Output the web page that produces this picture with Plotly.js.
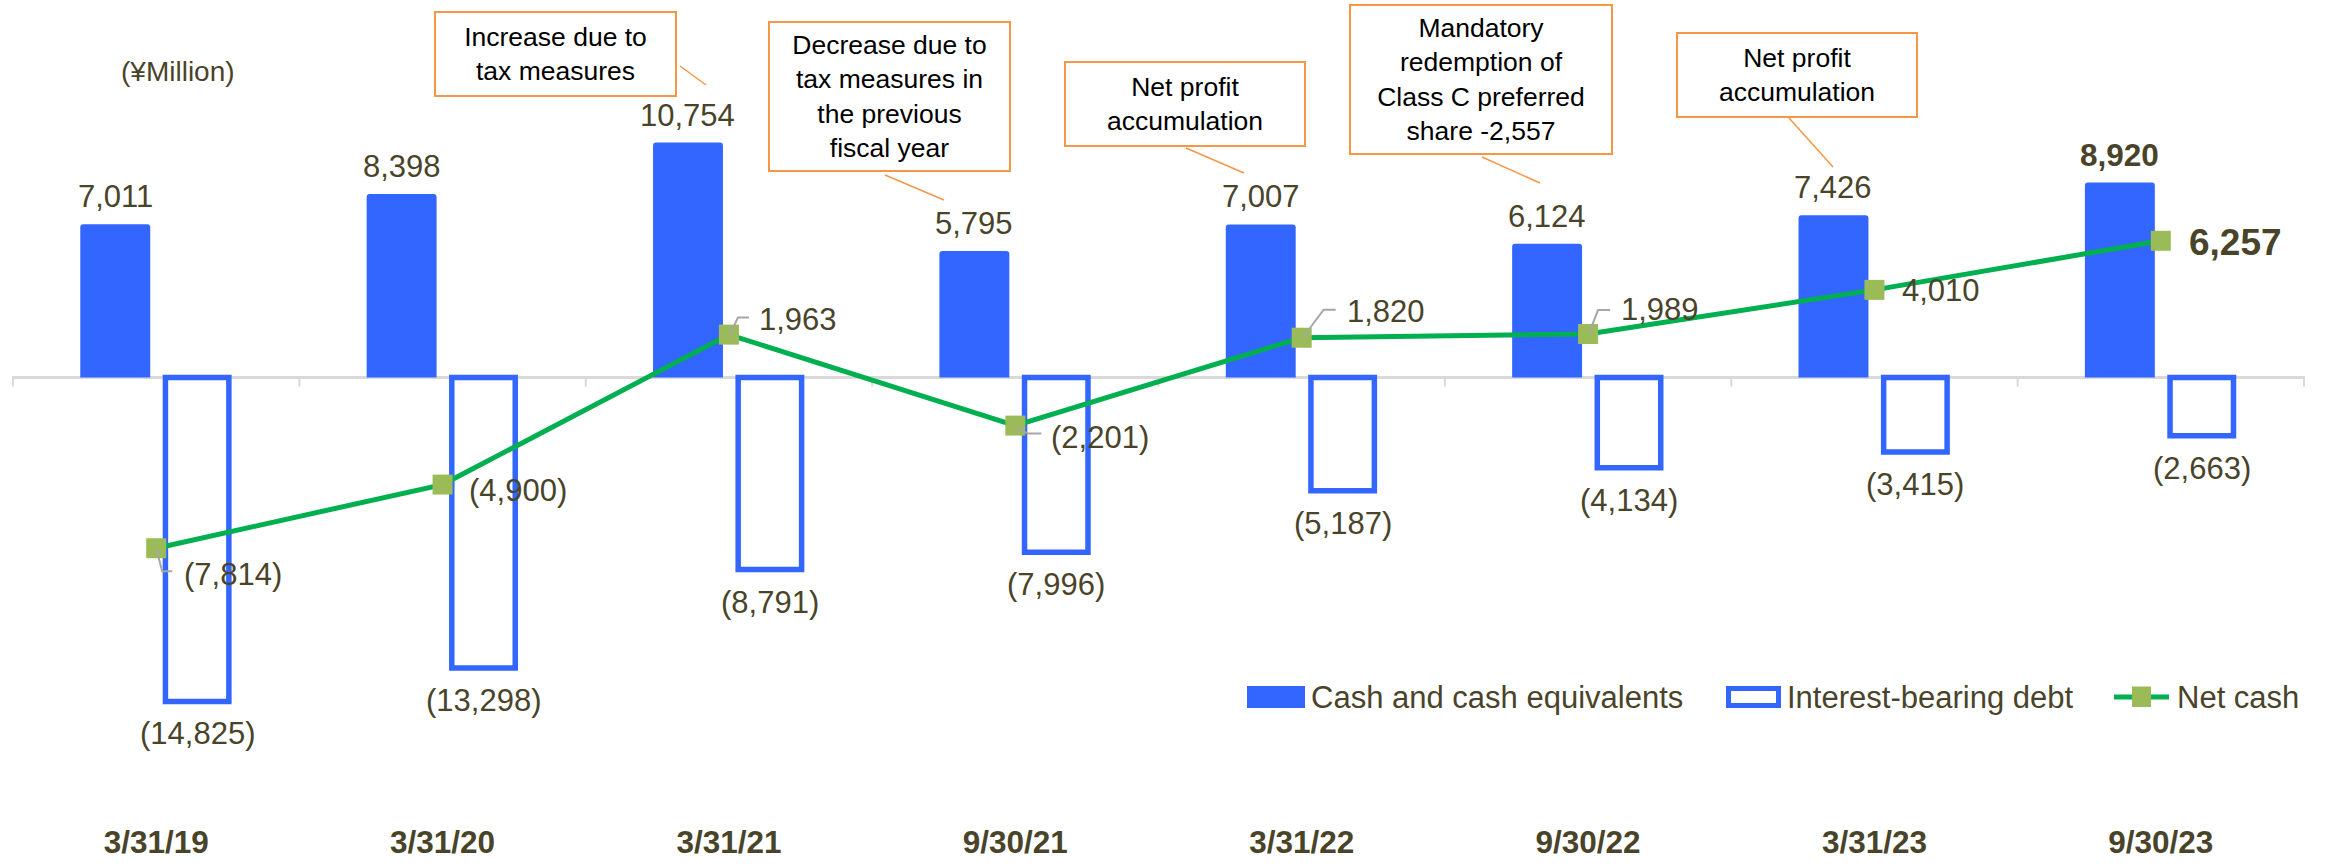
<!DOCTYPE html>
<html>
<head>
<meta charset="utf-8">
<script src="https://cdn.plot.ly/plotly-3.0.1.min.js"></script>
<style>
  html, body { margin: 0; padding: 0; background: #ffffff; }
  #chart { width: 2328px; height: 865px; }
</style>
</head>
<body>
<div id="chart"></div>
<script>
// ---------------- data ----------------
const categories = ['3/31/19', '3/31/20', '3/31/21', '9/30/21', '3/31/22', '9/30/22', '3/31/23', '9/30/23'];
const cashValues = [7011, 8398, 10754, 5795, 7007, 6124, 7426, 8920];
const debtValues = [-14825, -13298, -8791, -7996, -5187, -4134, -3415, -2663];
const netCashValues = [-7814, -4900, 1963, -2201, 1820, 1989, 4010, 6257];
const seriesNames = ['Cash and cash equivalents', 'Interest-bearing debt', 'Net cash'];
const unitLabel = '(¥Million)';
const calloutTexts = [
  'Increase due to<br>tax measures',
  'Decrease due to<br>tax measures in<br>the previous<br>fiscal year',
  'Net profit<br>accumulation',
  'Mandatory<br>redemption of<br>Class C preferred<br>share -2,557',
  'Net profit<br>accumulation'
];

// ---------------- layout / style settings ----------------
const W = 2328, H = 865;
const M = { l: 12, r: 23, t: 0, b: 45 };
const plotW = W - M.l - M.r;
const plotH = H - M.t - M.b;
const zeroPx = 377.5;          // pixel row of the zero line
const pxPerUnit = 0.02185;     // vertical scale
const yRange = [-(plotH - zeroPx) / pxPerUnit, zeroPx / pxPerUnit];

const FONT = 'Liberation Sans, Arial, sans-serif';
const TXT = '#494429';
const BLUE = '#3366FF';
const GREEN = '#00B050';
const MARKER = '#9BBB59';
const ORANGE = '#F79646';
const AXISGRAY = '#D9D9D9';
const LEADGRAY = '#A6A6A6';

const px = (x) => (x - M.l) / plotW;
const py = (y) => 1 - (y - M.t) / plotH;

// callout boxes: [left, top, width, height] and leader segments [x0,y0,x1,y1] in pixels
const calloutBoxes = [[435, 12, 241, 84], [769, 22, 241, 149], [1065, 62, 240, 84], [1350, 5, 262, 149], [1677, 33, 240, 84]];
const calloutLeaders = [[680, 66, 706, 85], [885, 175, 944, 200], [1186, 148, 1244, 173], [1482, 157, 1540, 183], [1789, 118, 1833, 167]];

// net cash label offsets (px right, px down) and leader paths (px, y up)
const netLabelOffsets = [[26, 26], [24, 6], [28, -15], [34, 12], [43, -26], [31, -25], [26, 1], [26, 2]];
const netLeaderPaths = ['M0,0L6,-23L16,-23', null, 'M1,0L9,17L20,17', 'M0,-2L13,-8L26,-8', 'M1,0L22,28L34,28', 'M1,1L10,24L22,24', null, null];

const fmt = (v) => {
  const s = Math.abs(v).toLocaleString('en-US');
  return v < 0 ? '(' + s + ')' : s;
};
const lastIdx = categories.length - 1;

// ---------------- traces ----------------
const traces = [
  {
    type: 'bar', name: seriesNames[0], x: categories, y: cashValues,
    width: 70 / (plotW / categories.length),
    marker: { color: BLUE, cornerradius: 3, line: { width: 0 } },
    showlegend: false, hoverinfo: 'x+y'
  },
  {
    type: 'bar', name: seriesNames[1], x: categories, y: debtValues,
    width: 63.5 / (plotW / categories.length),
    marker: { color: '#FFFFFF', line: { color: BLUE, width: 5.5 } },
    showlegend: false, hoverinfo: 'x+y'
  },
  {
    type: 'scatter', mode: 'lines+markers', name: seriesNames[2], x: categories, y: netCashValues,
    line: { color: GREEN, width: 5 },
    marker: { symbol: 'square', size: 20, color: MARKER, line: { width: 0 } },
    showlegend: false, hoverinfo: 'x+y', cliponaxis: false
  }
];

// ---------------- annotations ----------------
const annotations = [];

categories.forEach((c, i) => {
  const bold = i === lastIdx;
  annotations.push({
    x: i, y: cashValues[i], xref: 'x', yref: 'y', showarrow: false,
    xanchor: 'center', yanchor: 'bottom', xshift: -41, yshift: 8,
    text: bold ? '<b>' + fmt(cashValues[i]) + '</b>' : fmt(cashValues[i]),
    font: { family: FONT, size: bold ? 31.5 : 31, color: TXT }
  });
  annotations.push({
    x: i, y: debtValues[i], xref: 'x', yref: 'y', showarrow: false,
    xanchor: 'center', yanchor: 'top', xshift: 41, yshift: -13,
    text: fmt(debtValues[i]),
    font: { family: FONT, size: 31, color: TXT }
  });
  const off = netLabelOffsets[i];
  annotations.push({
    x: i, y: netCashValues[i], xref: 'x', yref: 'y', showarrow: false,
    xanchor: 'left', yanchor: 'middle', xshift: off[0], yshift: -off[1],
    text: bold ? '<b>' + fmt(netCashValues[i]) + '</b>' : fmt(netCashValues[i]),
    font: { family: FONT, size: bold ? 37 : 31, color: TXT }
  });
});

annotations.push({
  x: px(178), y: py(72), xref: 'paper', yref: 'paper', showarrow: false,
  xanchor: 'center', yanchor: 'middle', text: unitLabel,
  font: { family: FONT, size: 28, color: TXT }
});

calloutTexts.forEach((t, k) => {
  const b = calloutBoxes[k];
  annotations.push({
    x: px(b[0] - 1), y: py(b[1] - 1), xref: 'paper', yref: 'paper', showarrow: false,
    xanchor: 'left', yanchor: 'top', width: b[2] - 4, height: b[3] - 4,
    align: 'center', valign: 'middle', text: t,
    bordercolor: ORANGE, borderwidth: 2, borderpad: 1, bgcolor: '#FFFFFF',
    font: { family: FONT, size: 26.5, color: '#000000' }
  });
});

// custom legend texts
const legendItems = [
  { text: seriesNames[0], x: 1309 },
  { text: seriesNames[1], x: 1785 },
  { text: seriesNames[2], x: 2175 }
];
legendItems.forEach(it => {
  annotations.push({
    x: px(it.x), y: py(697), xref: 'paper', yref: 'paper', showarrow: false,
    xanchor: 'left', yanchor: 'middle', text: it.text,
    font: { family: FONT, size: 31, color: TXT }
  });
});

// ---------------- shapes ----------------
const shapes = [];
// category boundary tick marks on the zero line
for (let i = 0; i <= categories.length; i++) {
  shapes.push({
    type: 'line', xref: 'x', yref: 'y', x0: i - 0.5, x1: i - 0.5,
    ysizemode: 'pixel', yanchor: 0, y0: 0, y1: -9,
    line: { color: AXISGRAY, width: 2 }, layer: 'below'
  });
}
// net cash label leader lines
netLeaderPaths.forEach((p, i) => {
  if (!p) return;
  shapes.push({
    type: 'path', xref: 'x', yref: 'y', xsizemode: 'pixel', ysizemode: 'pixel',
    xanchor: i, yanchor: netCashValues[i], path: p,
    line: { color: LEADGRAY, width: 2 }, layer: 'above'
  });
});
// callout leader lines
calloutLeaders.forEach(s => {
  shapes.push({
    type: 'line', xref: 'paper', yref: 'paper',
    x0: px(s[0]), y0: py(s[1]), x1: px(s[2]), y1: py(s[3]),
    line: { color: ORANGE, width: 1.5 }, layer: 'above'
  });
});
// custom legend symbols
shapes.push({ type: 'rect', xref: 'paper', yref: 'paper', x0: px(1247), x1: px(1305), y0: py(686), y1: py(708),
  fillcolor: BLUE, line: { width: 0 }, layer: 'above' });
shapes.push({ type: 'rect', xref: 'paper', yref: 'paper', x0: px(1728.5), x1: px(1778.5), y0: py(688.5), y1: py(705.5),
  fillcolor: '#FFFFFF', line: { color: BLUE, width: 5 }, layer: 'above' });
shapes.push({ type: 'line', xref: 'paper', yref: 'paper', x0: px(2114), x1: px(2169), y0: py(697), y1: py(697),
  line: { color: GREEN, width: 5 }, layer: 'above' });
shapes.push({ type: 'rect', xref: 'paper', yref: 'paper', x0: px(2132), x1: px(2151), y0: py(686.5), y1: py(707),
  fillcolor: MARKER, line: { width: 0 }, layer: 'above' });

// ---------------- layout ----------------
const layout = {
  width: W, height: H,
  margin: M,
  paper_bgcolor: '#FFFFFF', plot_bgcolor: '#FFFFFF',
  barmode: 'group', bargap: 0.428, bargroupgap: 0.146,
  showlegend: false,
  font: { family: FONT, color: TXT },
  xaxis: {
    type: 'category', showgrid: false, showline: false, zeroline: false, ticks: '',
    tickfont: { family: FONT, size: 31.5, color: TXT, weight: 'bold' },
    fixedrange: true
  },
  yaxis: {
    range: yRange, showgrid: false, showticklabels: false, ticks: '',
    zeroline: true, zerolinecolor: AXISGRAY, zerolinewidth: 2.5, fixedrange: true
  },
  annotations: annotations,
  shapes: shapes
};

Plotly.newPlot('chart', traces, layout, { displayModeBar: false, staticPlot: true });
</script>
</body>
</html>
